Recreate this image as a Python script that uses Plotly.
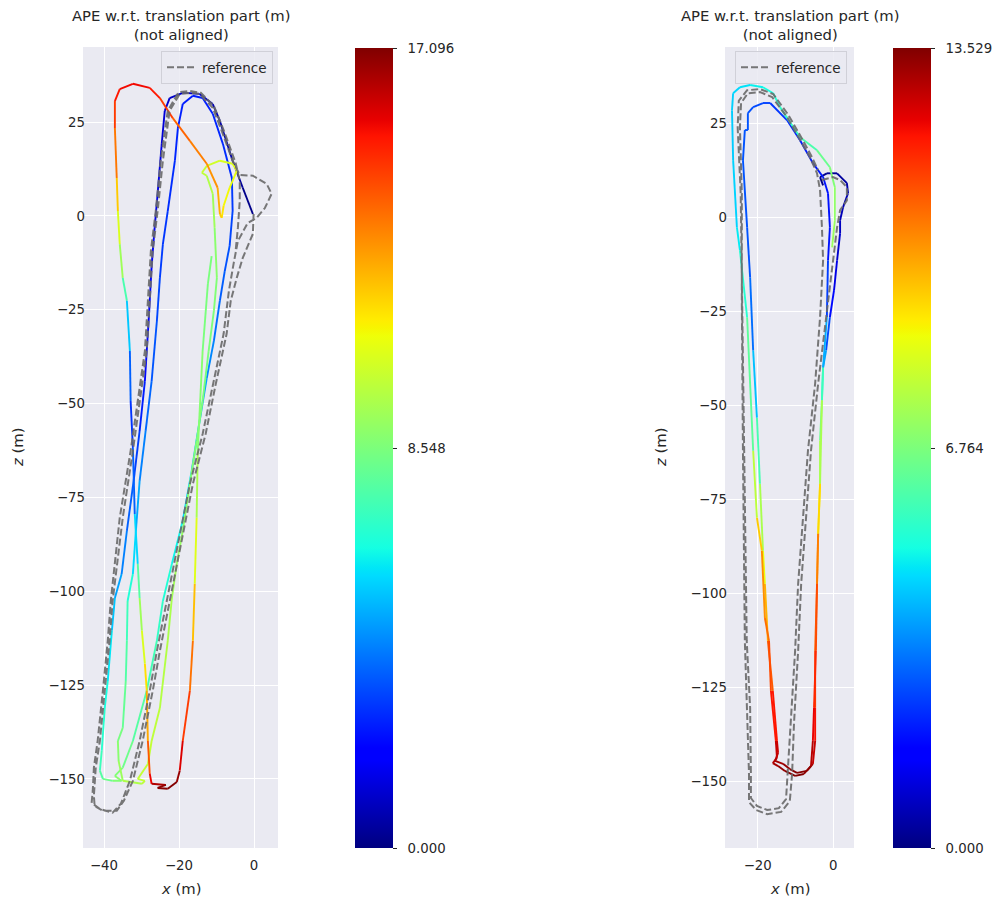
import plotly.graph_objects as go
from plotly.colors import sample_colorscale

# matplotlib-style "jet" colour scale
JET = [
    [0.0, "rgb(0,0,128)"], [0.11, "rgb(0,0,255)"], [0.125, "rgb(0,0,255)"],
    [0.34, "rgb(0,219,255)"], [0.35, "rgb(0,230,247)"], [0.375, "rgb(21,255,226)"],
    [0.64, "rgb(239,255,8)"], [0.65, "rgb(247,245,0)"], [0.66, "rgb(255,236,0)"],
    [0.89, "rgb(255,19,0)"], [0.91, "rgb(232,0,0)"], [1.0, "rgb(128,0,0)"],
]

TITLE = "APE w.r.t. translation part (m)<br>(not aligned)"

# ---------------- left plot data ----------------
err1_max = 17.096
cbar1_ticks = [0.0, 8.548, 17.096]
cbar1_text = ["0.000", "8.548", "17.096"]
x1_ticks = [-40, -20, 0]
z1_ticks = [25, 0, -25, -50, -75, -100, -125, -150]

ref1_x = [-0.1, -0.3, -3.0, -4.6, -6.2, -7.3, -10.2, -12.9, -16.3, -19.8,
          -23.5, -25.1, -27.0, -29.7, -32.3, -34.7, -36.6, -40.3, -42.5, -42.7,
          -42.2, -41.1, -39.8, -38.5, -37.7, -35.0, -32.3, -28.6, -27.0, -25.7,
          -24.3, -22.5, -19.8, -17.1, -14.5, -11.0, -8.3, -5.7, -3.8, -0.3,
          3.4, 4.7, 2.9, 0.7,
          -1.7, -4.3, -5.4, -6.7, -8.1, -11.0, -13.7, -17.1, -20.6, -24.3,
          -25.9, -27.8, -30.5, -33.1, -35.5, -37.7, -41.1, -43.3, -43.0, -42.7,
          -41.7, -40.3, -39.0, -38.2, -35.8, -32.9, -29.1, -27.5, -26.2, -24.9,
          -23.0, -20.1, -17.1, -14.2, -10.7, -7.8, -4.9, -3.8, -3.8, -4.3, -4.9]
ref1_z = [0.5, -4.8, -11.2, -16.5, -22.6, -31.4, -44.8, -58.1, -71.4, -89.2,
          -107.1, -115.9, -126.5, -139.9, -150.5, -155.8, -158.5, -158.5, -157.2, -154.5,
          -147.0, -139.9, -126.5, -113.2, -102.6, -80.4, -62.6, -36.0, -9.3, 1.3,
          14.7, 28.0, 32.5, 32.8, 32.5, 28.8, 21.8, 14.7, 10.9, 10.7,
          8.5, 5.9, 2.1, -0.5,
          -1.9, -6.7, -12.5, -20.0, -31.4, -44.8, -58.1, -71.4, -89.2, -107.1,
          -115.9, -126.5, -139.9, -150.5, -156.6, -159.0, -158.0, -156.4, -153.2, -147.0,
          -139.9, -126.5, -113.2, -102.6, -80.4, -62.6, -36.0, -9.3, 1.3, 14.7,
          28.0, 33.0, 33.3, 32.8, 29.3, 22.1, 14.1, 9.3, 4.0, -3.2, -9.3]

est1_x = [-0.3, -3.0, -5.7, -9.1, -11.0, -14.5, -19.0, -22.5, -23.8, -24.6,
          -25.7, -26.5, -27.3, -28.1, -29.1, -30.5, -32.1, -33.9, -35.3, -37.1,
          -37.9, -39.0, -39.8, -40.6, -41.1, -40.3, -37.7, -35.3, -37.1, -35.0,
          -32.3, -28.6, -25.9,
          -24.3, -21.9, -19.0, -16.6, -14.5, -12.6, -10.7, -9.1, -7.8, -6.5,
          -5.7, -5.9, -8.3, -11.0, -13.7, -16.3, -19.0, -20.3, -21.1, -23.0,
          -24.3, -25.1,
          -25.9, -27.3, -28.9, -30.5, -31.5, -32.3, -33.7, -33.9, -34.2, -35.0,
          -36.3, -36.1, -35.0, -29.9, -29.1, -31.0, -28.3, -27.3, -25.1, -23.0,
          -21.9, -20.6, -19.0, -17.1, -15.3, -13.7, -12.1, -10.7, -9.9, -10.5,
          -11.0, -12.6, -13.9, -12.6, -9.1, -5.7, -4.6, -6.5, -8.1, -8.6,
          -9.1, -9.7, -12.6, -17.1, -21.7, -25.1, -27.8, -32.3, -35.8, -37.1,
          -37.1, -36.6, -36.3, -35.8, -35.0, -33.9, -33.1, -32.9, -32.3, -31.8,
          -31.0, -30.5, -29.9, -29.1, -28.6, -28.3, -27.8, -27.3, -23.5, -25.7,
          -23.0, -20.6, -19.8, -19.0, -17.1, -16.3, -15.8, -15.3, -15.0, -13.7,
          -12.3, -11.3]
est1_z = [0.5, 7.5, 14.7, 25.3, 29.8, 32.5, 32.8, 31.4, 28.0, 19.2,
          5.9, -3.2, -13.3, -28.0, -44.0, -57.3, -70.6, -83.9, -95.4, -101.8,
          -110.5, -123.9, -131.1, -142.5, -147.8, -150.0, -150.5, -150.5, -149.2, -147.0,
          -139.9, -126.5, -113.2,
          -102.6, -92.7, -81.2, -67.9, -54.6, -43.2, -33.3, -22.6, -14.7, -8.0,
          1.3, 10.1, 19.2, 27.2, 31.4, 32.0, 29.8, 23.4, 14.7, 1.3,
          -7.5, -16.5,
          -28.0, -44.0, -57.3, -70.6, -83.9, -95.4, -102.6, -113.2, -123.9, -136.4,
          -139.9, -145.2, -150.5, -151.3, -150.5, -150.0, -146.0, -139.9, -131.1, -113.2,
          -101.8, -92.7, -83.9, -71.4, -59.9, -49.3, -36.0, -25.3, -16.5, -3.2,
          5.9, 10.7, 11.5, 13.3, 14.7, 13.9, 12.0, 7.5, 2.7, -0.5,
          0.5, 7.5, 13.9, 20.0, 26.1, 31.4, 34.1, 35.2, 33.8, 30.6,
          23.4, 10.1, 1.3, -7.5, -16.5, -22.6, -36.0, -49.3, -61.8, -79.4,
          -92.7, -101.8, -110.5, -119.3, -126.5, -139.9, -148.6, -151.3, -151.6, -152.4,
          -152.6, -150.8, -147.8, -139.9, -126.5, -113.2, -98.0, -80.4, -62.6, -36.0,
          -18.1, -10.7]
est1_err = [0.0, 0.3, 0.5, 0.7, 0.8, 0.9, 1.0, 1.1, 1.2, 1.4,
            1.6, 1.7, 1.9, 2.1, 2.4, 2.9, 3.5, 4.0, 4.6, 5.2,
            5.7, 6.3, 6.6, 7.0, 7.5, 8.0, 8.5, 8.8, 8.8, 8.5,
            8.0, 7.5, 7.2,
            6.8, 6.5, 6.0, 5.5, 5.0, 4.6, 4.2, 3.8, 3.6, 3.4,
            3.2, 3.0, 2.8, 2.7, 2.6, 2.6, 2.6, 2.7, 2.8, 3.0,
            3.1, 3.2,
            3.4, 3.7, 4.0, 4.6, 5.3, 6.3, 7.0, 7.5, 7.8, 8.3,
            8.6, 9.0, 9.4, 9.8, 10.0, 10.0, 10.0, 10.0, 9.8, 9.6,
            9.4, 9.2, 9.0, 8.8, 8.6, 8.5, 8.5, 8.6, 8.7, 9.0,
            9.5, 9.8, 10.0, 10.2, 10.4, 10.6, 10.7, 10.9, 11.2, 11.6,
            12.0, 12.8, 13.0, 13.5, 14.0, 15.0, 15.3, 15.5, 15.3, 15.0,
            14.0, 12.8, 11.0, 10.0, 8.5, 6.5, 4.5, 3.0, 3.0, 4.5,
            7.0, 8.5, 10.0, 11.0, 12.0, 13.0, 15.0, 16.0, 16.8, 16.9,
            17.096, 17.0, 16.5, 15.0, 14.0, 13.0, 11.2, 10.0, 9.0, 8.5,
            8.5, 8.5]

# ---------------- right plot data ----------------
err2_max = 13.529
cbar2_ticks = [0.0, 6.764, 13.529]
cbar2_text = ["0.000", "6.764", "13.529"]
x2_ticks = [-20, 0]
z2_ticks = [25, 0, -25, -50, -75, -100, -125, -150]

ref2_x = [-3.0, -0.1, 1.8, 3.6, 3.6, 1.8, 1.0, -0.1, -0.9, -1.9,
          -4.0, -5.9, -7.2, -8.5, -9.3, -10.4, -10.9, -11.5, -13.8, -17.5,
          -20.4, -22.3, -22.3, -22.8, -23.4, -23.9, -24.2, -24.2, -24.7, -24.4,
          -22.6, -19.4, -16.2, -12.2, -8.8, -6.2, -4.3,
          -3.5, -3.0, -2.7, -3.5, -4.8, -6.7, -8.0, -9.3, -10.1, -11.2,
          -12.0, -12.5, -14.4, -17.5, -20.2, -21.8, -21.8, -22.0, -22.9, -23.6,
          -24.0, -24.5, -25.3, -25.0, -22.8, -19.4, -15.9, -12.0, -8.5, -5.9, -4.0]
ref2_z = [9.9, 10.7, 9.9, 8.0, 4.5, 1.9, -2.7, -11.5, -18.1, -26.6,
          -44.2, -62.1, -79.9, -97.5, -115.3, -134.8, -148.1, -155.3, -158.2, -158.8,
          -157.7, -155.6, -148.1, -130.5, -112.7, -62.1, -22.1, 6.4, 24.0, 30.4,
          33.0, 33.3, 32.0, 26.6, 20.5, 16.0, 11.7,
          7.2, -2.7, -11.5, -26.6, -44.2, -62.1, -79.9, -97.5, -115.3, -134.8,
          -148.1, -154.8, -157.2, -157.7, -156.6, -154.5, -148.1, -130.5, -112.7, -62.1,
          -22.1, 6.4, 24.0, 31.0, 33.8, 34.1, 32.8, 27.4, 21.3, 16.5, 12.5]

est2_x = [-2.7, -3.5, -1.7, 1.0, 3.6, 3.9, 2.6, 1.8, 1.8, 1.0,
          0.2, -0.9, -1.9, -2.7, -3.0, -3.5, -3.5, -4.0, -4.3, -4.8,
          -4.8, -4.8, -5.4, -7.0, -9.6, -11.5, -13.3, -15.4, -14.6, -14.9,
          -16.0, -17.3, -18.1, -18.6, -19.4, -20.2, -21.2, -22.0, -22.8, -23.9,
          -23.4, -22.6, -22.6, -21.2, -18.6, -16.7, -12.2, -8.8, -5.4, -2.7,
          -1.4, -0.9, -1.4,
          -1.7, -2.7, -3.0, -3.5, -4.0, -4.3, -4.6, -5.1, -5.4, -5.9,
          -7.8, -10.1, -12.8, -14.6, -16.0, -14.9, -15.2, -16.5, -17.0, -18.1,
          -18.9, -20.2, -21.2, -22.8, -24.7, -25.5, -26.5, -26.8, -26.5, -24.7,
          -22.0, -18.6, -15.9, -14.1, -8.8, -4.3, -0.9, 0.4, 0.4, -0.3]
est2_z = [8.5, 10.7, 11.7, 11.7, 9.1, 6.4, 2.7, -0.8, -4.3, -11.5,
          -19.4, -26.6, -35.4, -40.0, -48.7, -59.4, -70.9, -84.2, -97.5, -115.3,
          -130.5, -139.3, -145.4, -147.3, -147.8, -146.8, -145.4, -144.6, -142.5, -139.3,
          -126.0, -112.7, -97.5, -88.7, -70.9, -53.3, -35.4, -16.0, -2.7, 15.2,
          23.2, 23.2, 27.7, 29.3, 30.4, 30.4, 25.8, 20.5, 14.4, 10.7,
          6.4, -2.7, -11.5,
          -26.6, -40.0, -48.7, -70.9, -84.2, -97.5, -115.3, -130.5, -139.3, -146.0,
          -148.1, -148.6, -147.3, -146.0, -145.2, -143.8, -139.3, -126.0, -112.7, -106.6,
          -88.7, -79.9, -62.1, -26.6, -8.8, -2.7, 15.2, 28.5, 33.0, 34.6,
          35.2, 34.6, 33.0, 29.3, 21.3, 17.8, 13.3, 8.0, -0.8, -8.0]
est2_err = [0.0, 0.1, 0.2, 0.3, 0.4, 0.5, 0.6, 0.7, 0.8, 1.0,
            1.4, 2.2, 3.2, 4.5, 6.0, 7.0, 8.0, 9.5, 10.5, 11.2,
            11.8, 12.4, 13.0, 13.4, 13.5, 13.4, 13.2, 13.0, 12.8, 12.5,
            11.5, 10.5, 9.0, 8.2, 6.8, 5.0, 3.5, 2.8, 2.8, 2.8,
            2.8, 2.8, 2.8, 2.7, 2.6, 2.5, 2.3, 2.1, 2.0, 2.0,
            1.9, 1.9, 2.0,
            3.0, 5.0, 6.5, 8.5, 10.0, 11.0, 11.5, 12.0, 12.6, 13.2,
            13.5, 13.529, 13.4, 13.2, 13.0, 12.9, 12.5, 11.5, 11.0, 10.5,
            10.0, 8.8, 6.8, 5.7, 5.0, 4.6, 4.4, 4.4, 4.5, 4.6,
            4.8, 5.0, 5.2, 5.4, 5.7, 6.2, 6.7, 7.0, 7.2, 7.3]

FONT = "DejaVu Sans"
TXT = "#262626"
BG = "#EAEAF2"
NB = "\u00a0\u00a0"

fig = go.Figure()


def add_estimate(xs, zs, errs, vmax, xa, ya):
    for i in range(len(xs) - 1):
        mid = (errs[i] + errs[i + 1]) / 2.0 / vmax
        col = sample_colorscale(JET, [min(max(mid, 0), 1)])[0]
        fig.add_trace(go.Scatter(
            x=xs[i:i + 2], y=zs[i:i + 2], mode="lines",
            line=dict(color=col, width=1.9), xaxis=xa, yaxis=ya,
            showlegend=False, hoverinfo="skip"))


def add_cbar(xs, zs, errs, vmax, ticks, text, xa, ya, xpos):
    fig.add_trace(go.Scatter(
        x=xs, y=zs, mode="markers", xaxis=xa, yaxis=ya, showlegend=False,
        hoverinfo="skip",
        marker=dict(color=errs, colorscale=JET, cmin=0, cmax=vmax, size=1,
                    opacity=0, showscale=True,
                    colorbar=dict(x=xpos, xanchor="left", xpad=0, ypad=0,
                                  y=1 - 448 / 901, yanchor="middle",
                                  len=800, lenmode="pixels", thickness=38,
                                  outlinewidth=0, tickvals=ticks,
                                  ticktext=[NB + t for t in text],
                                  ticks="outside", ticklen=4, tickwidth=1,
                                  tickcolor=TXT,
                                  tickfont=dict(family=FONT, size=13.3, color=TXT)))))


add_estimate(est1_x, est1_z, est1_err, err1_max, "x", "y")
add_estimate(est2_x, est2_z, est2_err, err2_max, "x2", "y2")

fig.add_trace(go.Scatter(x=ref1_x, y=ref1_z, mode="lines", name="reference",
                         line=dict(color="rgba(105,105,105,0.9)", width=2, dash="7px,3px"),
                         xaxis="x", yaxis="y", legend="legend", hoverinfo="skip"))
fig.add_trace(go.Scatter(x=ref2_x, y=ref2_z, mode="lines", name="reference",
                         line=dict(color="rgba(105,105,105,0.9)", width=2, dash="7px,3px"),
                         xaxis="x2", yaxis="y2", legend="legend2", hoverinfo="skip"))

add_cbar(est1_x, est1_z, est1_err, err1_max, cbar1_ticks, cbar1_text, "x", "y", 355 / 997)
add_cbar(est2_x, est2_z, est2_err, err2_max, cbar2_ticks, cbar2_text, "x2", "y2", 893 / 997)

ydom = [1 - 848 / 901, 1 - 47 / 901]
tickfont = dict(family=FONT, size=13.3, color=TXT)
xcommon = dict(showgrid=True, gridcolor="white", gridwidth=1, zeroline=False,
               showline=False, ticks="", tickfont=tickfont, ticklabelstandoff=8)
ycommon = dict(showgrid=True, gridcolor="white", gridwidth=1, zeroline=False,
               showline=False, ticks="", tickfont=tickfont, ticklabelstandoff=-3)

fig.update_layout(
    width=997, height=901, margin=dict(l=0, r=0, t=0, b=0),
    paper_bgcolor="white", plot_bgcolor=BG, showlegend=True,
    xaxis=dict(domain=[83 / 997, 278 / 997], range=[-45.6, 6.4], tickvals=x1_ticks,
               anchor="y", **xcommon),
    yaxis=dict(domain=ydom, range=[-168.4, 45.0], tickvals=z1_ticks, anchor="x",
               **ycommon),
    xaxis2=dict(domain=[725 / 997, 854 / 997], range=[-28.65, 5.48], tickvals=x2_ticks,
                anchor="y2", **xcommon),
    yaxis2=dict(domain=ydom, range=[-167.8, 45.3], tickvals=z2_ticks, anchor="x2",
                **ycommon),
    legend=dict(x=273 / 997, y=1 - 51 / 901, xanchor="right", yanchor="top",
                bgcolor="rgba(234,234,242,0.85)", bordercolor="#D0D0D8", borderwidth=1,
                font=dict(family=FONT, size=13.5, color=TXT)),
    legend2=dict(x=847 / 997, y=1 - 51 / 901, xanchor="right", yanchor="top",
                 bgcolor="rgba(234,234,242,0.85)", bordercolor="#D0D0D8", borderwidth=1,
                 font=dict(family=FONT, size=13.5, color=TXT)),
)

title_font = dict(family=FONT, size=14.8, color=TXT)
for cx, px_z in [((83 + 278) / 2 / 997, 18 / 997), ((725 + 854) / 2 / 997, 661 / 997)]:
    fig.add_annotation(x=cx, y=1 - 5 / 901, xref="paper", yref="paper", text=TITLE,
                       showarrow=False, xanchor="center", yanchor="top", font=title_font)
    fig.add_annotation(x=cx, y=1 - 888 / 901, xref="paper", yref="paper",
                       text="<i>x</i> (m)", showarrow=False, xanchor="center",
                       yanchor="middle", font=title_font)
    fig.add_annotation(x=px_z, y=1 - 448 / 901, xref="paper", yref="paper",
                       text="<i>z</i> (m)", showarrow=False, textangle=-90,
                       xanchor="center", yanchor="middle", font=title_font)

fig.write_html("out.html")
